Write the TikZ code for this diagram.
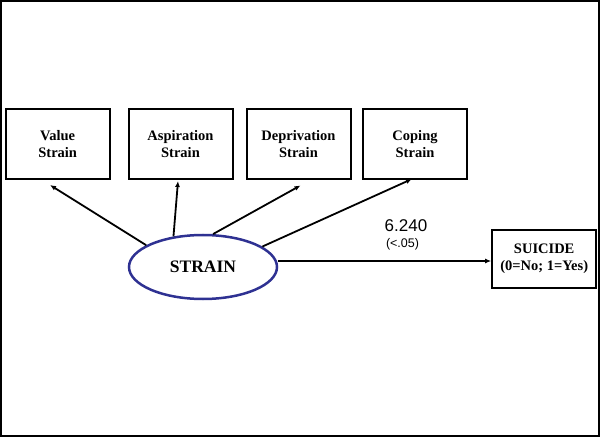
\documentclass[tikz,border=0pt]{standalone}
\usepackage{fontspec}
\setmainfont{Liberation Serif}
\newfontfamily\arialfont{Liberation Sans}
\usetikzlibrary{shapes.geometric,arrows.meta}
\definecolor{navy}{HTML}{2E3192}
\begin{document}
\begin{tikzpicture}[x=1bp,y=-1bp,
  box/.style={draw=black,line width=2bp,minimum width=104bp,minimum height=70bp,inner sep=0pt,align=center,
    font=\fontsize{14.5bp}{17bp}\selectfont\bfseries},
  arr/.style={line width=1.8bp,-{Latex[length=6bp,width=5bp]}}]
\useasboundingbox (0,0) rectangle (600,437);
\draw[line width=2bp] (1,1) rectangle (599,436);
\node[box] (value) at (57.7,144.5) {Value\\Strain};
\node[box] (asp) at (180.5,144.5) {Aspiration\\Strain};
\node[box] (dep) at (298.5,144.5) {Deprivation\\Strain};
\node[box] (cop) at (415,144.5) {Coping\\Strain};
\node[box,minimum width=104bp,minimum height=57bp] (sui) at (544.2,259) {SUICIDE\\(0=No; 1=Yes)};
\node[ellipse,draw=navy,line width=2.5bp,minimum width=148bp,minimum height=64bp,inner sep=0pt,
  font=\fontsize{17.5bp}{20bp}\selectfont\bfseries] (strain) at (203,267) {STRAIN};
\coordinate (vE) at (50,185);
\coordinate (aE) at (178,181);
\coordinate (dE) at (300.5,185.5);
\coordinate (cE) at (412,179);
\coordinate (sS) at (277.5,261);
\draw[arr] (strain.159) -- (vE);
\draw[arr] (strain.134) -- (aE);
\draw[arr] (strain.73) -- (dE);
\draw[arr] (strain.19) -- (cE);
\draw[arr,line width=2bp] (sS) -- (sS -| sui.west);
\node[font=\arialfont\fontsize{17bp}{18bp}\selectfont,inner sep=0pt] (coef) at (406,226) {6.240};
\node[font=\arialfont\fontsize{12.5bp}{13bp}\selectfont,inner sep=0pt] (pval) at (402.5,244) {(<.05)};
\end{tikzpicture}
\end{document}
